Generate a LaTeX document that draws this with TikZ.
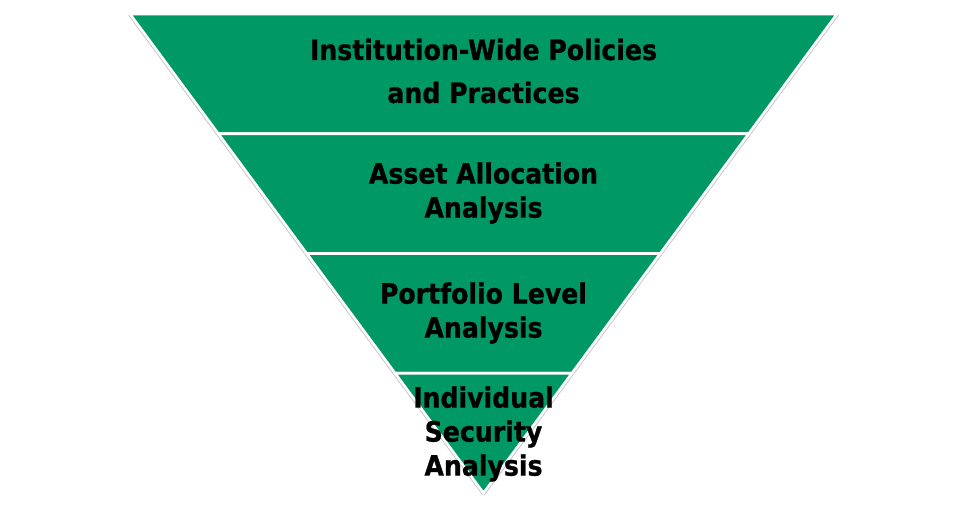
\documentclass[tikz,border=0pt]{standalone}
\usepackage{fontspec}
\setmainfont{DejaVu Sans Condensed}[BoldFeatures={FakeBold=0.8}]
\usepackage{tikz}
\usetikzlibrary{calc}
\definecolor{pyrgreen}{RGB}{0,153,102}
\tikzset{bandtext/.style={font=\bfseries\fontsize{28}{34}\selectfont,align=center,text=black}}

\begin{document}
\begin{tikzpicture}[x=1pt,y=-1pt]
\useasboundingbox (0,0) rectangle (960,507);
% Corners of the inverted pyramid
\coordinate (tl) at (130,14);
\coordinate (tr) at (837,14);
\coordinate (ap) at (483.5,493);

% Soft shadow along the slanted edges
\draw[gray!45,line width=4.5pt,line join=round] (tr) -- (ap) -- (tl);

% Four bands (white outline leaves the gaps)
\foreach \a/\b in {0/0.25, 0.25/0.5, 0.5/0.75, 0.75/1}
    \filldraw[fill=pyrgreen,draw=white,line width=2.6pt]
        ($(tl)!\a!(ap)$) -- ($(tr)!\a!(ap)$) -- ($(tr)!\b!(ap)$) -- ($(tl)!\b!(ap)$) -- cycle;

% Band labels
\node[bandtext] (policy) at (483.5,71) {Institution-Wide Policies\\[9pt]and Practices};
\node[bandtext] (alloc) at (483.5,193) {Asset Allocation\\Analysis};
\node[bandtext] (portf) at (483.5,313) {Portfolio Level\\Analysis};
\node[bandtext] (secur) at (483.5,434) {Individual\\Security\\Analysis};
\end{tikzpicture}
\end{document}
